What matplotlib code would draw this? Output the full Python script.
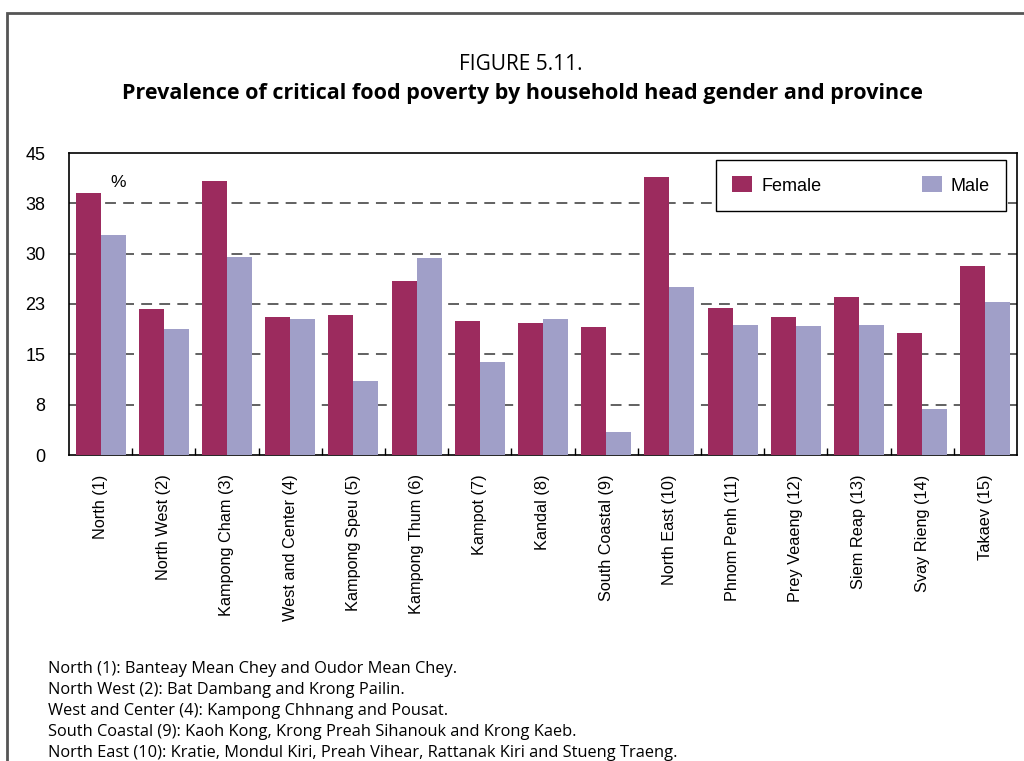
import matplotlib
matplotlib.use('Agg')
import matplotlib.pyplot as plt
from matplotlib.patches import Rectangle
from matplotlib.ticker import FixedLocator

# data
regions = ['North (1)', 'North West (2)', 'Kampong Cham (3)', 'West and Center (4)',
           'Kampong Speu (5)', 'Kampong Thum (6)', 'Kampot (7)', 'Kandal (8)',
           'South Coastal (9)', 'North East (10)', 'Phnom Penh (11)', 'Prey Veaeng (12)',
           'Siem Reap (13)', 'Svay Rieng (14)', 'Takaev (15)']
female = [39.1, 21.8, 40.8, 20.6, 20.9, 26.0, 19.9, 19.7, 19.0, 41.4, 21.9, 20.6, 23.6, 18.2, 28.2]
male = [32.8, 18.8, 29.5, 20.2, 11.1, 29.3, 13.9, 20.2, 3.5, 25.1, 19.4, 19.2, 19.4, 6.9, 22.8]
yticks = [0, 7.5, 15, 22.5, 30, 37.5, 45]
ytick_labels = ['0', '8', '15', '23', '30', '38', '45']
notes = ['North (1): Banteay Mean Chey and Oudor Mean Chey.',
         'North West (2): Bat Dambang and Krong Pailin.',
         'West and Center (4): Kampong Chhnang and Pousat.',
         'South Coastal (9): Kaoh Kong, Krong Preah Sihanouk and Krong Kaeb.',
         'North East (10): Kratie, Mondul Kiri, Preah Vihear, Rattanak Kiri and Stueng Traeng.']

c_female = '#9C2B5E'
c_male = '#A09FC8'

fig = plt.figure(figsize=(10.24, 7.61), dpi=100)
# outer frame of the figure (cut off at right and bottom)
fig.patches.append(Rectangle((7/1024, -0.05), 1.1, (761-13)/761 + 0.05, transform=fig.transFigure,
                             fill=False, edgecolor='#555555', linewidth=2))

fig.text(0.509, 1 - 64/761, 'FIGURE 5.11.', ha='center', va='center',
         family='Open Sans', fontsize=15)
fig.text(0.51, 1 - 93/761, 'Prevalence of critical food poverty by household head gender and province',
         ha='center', va='center', family='Open Sans', fontsize=15.5, fontweight='bold')

ax = fig.add_axes([69/1024, 1 - 455/761, 948/1024, 302/761])
x = range(len(regions))
w = 0.395
ax.bar([i - w/2 for i in x], female, width=w, color=c_female, label='Female', zorder=3)
ax.bar([i + w/2 for i in x], male, width=w, color=c_male, label='Male', zorder=3)

ax.set_xlim(-0.5, len(regions) - 0.5)
ax.set_ylim(0, 45)
for y in yticks[1:-1]:
    ax.axhline(y, color='#555555', linestyle=(0, (6, 4)), linewidth=1.3, zorder=1)

ax.set_yticks(yticks)
ax.set_yticklabels(ytick_labels, family='Liberation Sans', fontsize=13)
ax.tick_params(axis='y', length=0, pad=17)
ax.set_xticks(list(x))
ax.set_xticklabels(regions, rotation=90, family='Liberation Sans', fontsize=11.7)
ax.tick_params(axis='x', which='major', length=0, pad=14)
ax.xaxis.set_minor_locator(FixedLocator([i + 0.5 for i in range(len(regions) - 1)]))
ax.tick_params(axis='x', which='minor', direction='in', length=5, width=1, color='black')
for s in ax.spines.values():
    s.set_linewidth(1.2)

ax.text(0.28, 39.5, '%', family='Liberation Sans', fontsize=12.5, ha='center', va='bottom')

leg = ax.legend(loc='upper left', bbox_to_anchor=((716-69)/948, (455-211)/302, 290/948, 51/302),
                mode='expand', ncol=2,
                prop={'family': 'Liberation Sans', 'size': 13}, frameon=True, fancybox=False,
                framealpha=1, edgecolor='black', handlelength=1.1, handleheight=1.0,
                handletextpad=0.5, borderpad=0.9, borderaxespad=0)
leg.get_frame().set_linewidth(1.0)

for k, line in enumerate(notes):
    fig.text(48/1024, 1 - (669 + k*21)/761, line, ha='left', va='center',
             family='Open Sans', fontsize=11.8)

fig.savefig('out.png', dpi=100)
